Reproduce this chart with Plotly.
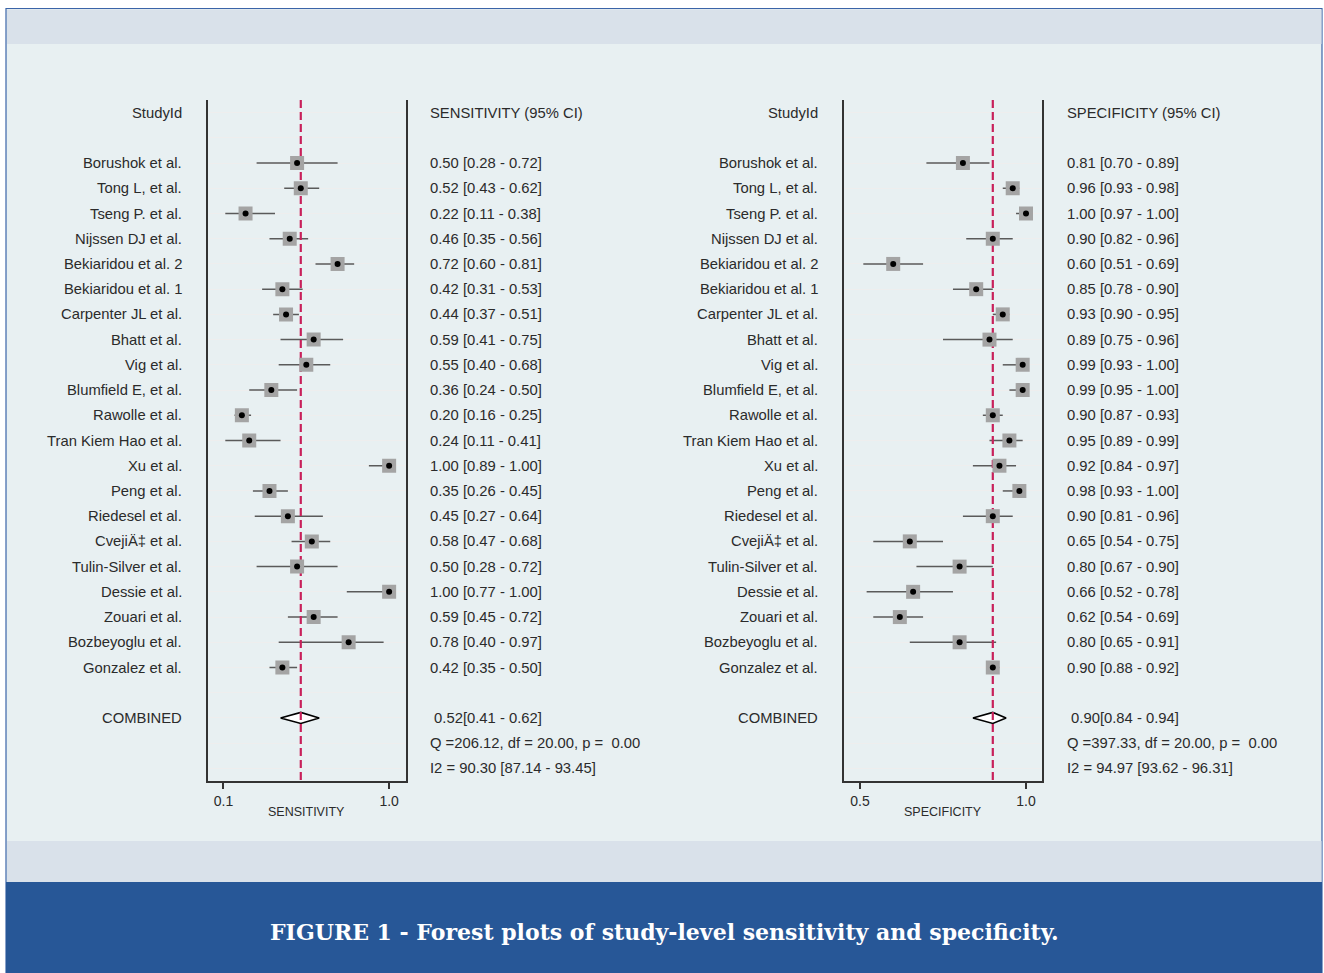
import plotly.graph_objects as go

W, H = 1324, 973

studies = ["Borushok et al.", "Tong L, et al.", "Tseng P. et al.", "Nijssen DJ et al.",
           "Bekiaridou et al. 2", "Bekiaridou et al. 1", "Carpenter JL et al.", "Bhatt et al.",
           "Vig et al.", "Blumfield E, et al.", "Rawolle et al.", "Tran Kiem Hao et al.",
           "Xu et al.", "Peng et al.", "Riedesel et al.", "CvejiÄ‡ et al.",
           "Tulin-Silver et al.", "Dessie et al.", "Zouari et al.", "Bozbeyoglu et al.",
           "Gonzalez et al."]

sens_est = [0.50, 0.52, 0.22, 0.46, 0.72, 0.42, 0.44, 0.59, 0.55, 0.36, 0.20,
            0.24, 1.00, 0.35, 0.45, 0.58, 0.50, 1.00, 0.59, 0.78, 0.42]
sens_lo = [0.28, 0.43, 0.11, 0.35, 0.60, 0.31, 0.37, 0.41, 0.40, 0.24, 0.16,
           0.11, 0.89, 0.26, 0.27, 0.47, 0.28, 0.77, 0.45, 0.40, 0.35]
sens_hi = [0.72, 0.62, 0.38, 0.56, 0.81, 0.53, 0.51, 0.75, 0.68, 0.50, 0.25,
           0.41, 1.00, 0.45, 0.64, 0.68, 0.72, 1.00, 0.72, 0.97, 0.50]

spec_est = [0.81, 0.96, 1.00, 0.90, 0.60, 0.85, 0.93, 0.89, 0.99, 0.99, 0.90,
            0.95, 0.92, 0.98, 0.90, 0.65, 0.80, 0.66, 0.62, 0.80, 0.90]
spec_lo = [0.70, 0.93, 0.97, 0.82, 0.51, 0.78, 0.90, 0.75, 0.93, 0.95, 0.87,
           0.89, 0.84, 0.93, 0.81, 0.54, 0.67, 0.52, 0.54, 0.65, 0.88]
spec_hi = [0.89, 0.98, 1.00, 0.96, 0.69, 0.90, 0.95, 0.96, 1.00, 1.00, 0.93,
           0.99, 0.97, 1.00, 0.96, 0.75, 0.90, 0.78, 0.69, 0.91, 0.92]

sens_pooled = (0.52, 0.41, 0.62)
spec_pooled = (0.90, 0.84, 0.94)
sens_stats = ["Q =206.12, df = 20.00, p =  0.00", "I2 = 90.30 [87.14 - 93.45]"]
spec_stats = ["Q =397.33, df = 20.00, p =  0.00", "I2 = 94.97 [93.62 - 96.31]"]

sens_ticks = [0.1, 1.0]
spec_ticks = [0.5, 1.0]

caption = "FIGURE 1 - Forest plots of study-level sensitivity and specificity."

FONT = "Arial, Liberation Sans, sans-serif"
TXT = "#2b2b2b"
TXT_SIZE = 14.8

def px(x):
    return x / W

def py(y):
    return 1 - y / H

fig = go.Figure()

# rows: 0 header, 1 blank, 2..22 studies, 23 blank, 24 combined, 25 Q, 26 I2
rows = [i + 2 for i in range(len(studies))]
ROW_COMB = len(studies) + 3

panels = [
    dict(xa="x", ya="y", est=sens_est, lo=sens_lo, hi=sens_hi, pooled=sens_pooled,
         stats=sens_stats, name_x=184, val_x=428, header="SENSITIVITY (95% CI)",
         title="SENSITIVITY", dom=(207.5, 405.5), rng=(0.0133, 1.0889), ticks=sens_ticks),
    dict(xa="x2", ya="y2", est=spec_est, lo=spec_lo, hi=spec_hi, pooled=spec_pooled,
         stats=spec_stats, name_x=820, val_x=1065, header="SPECIFICITY (95% CI)",
         title="SPECIFICITY", dom=(844, 1041.7), rng=(0.4518, 1.0473), ticks=spec_ticks),
]

annotations = []
for p in panels:
    est, lo, hi = p["est"], p["lo"], p["hi"]
    # CI lines
    fig.add_trace(go.Scatter(
        x=est, y=rows, mode="markers", xaxis=p["xa"], yaxis=p["ya"],
        marker=dict(size=1, color="rgba(0,0,0,0)"),
        error_x=dict(type="data", symmetric=False,
                     array=[h - e for h, e in zip(hi, est)],
                     arrayminus=[e - l for e, l in zip(est, lo)],
                     width=0, color="#5a5a5a", thickness=1.5),
        showlegend=False, hoverinfo="skip"))
    # pooled diamond
    pe, pl, ph = p["pooled"]
    dh = 0.22
    fig.add_trace(go.Scatter(
        x=[pl, pe, ph, pe, pl], y=[ROW_COMB, ROW_COMB - dh, ROW_COMB, ROW_COMB + dh, ROW_COMB],
        mode="lines", fill="toself", fillcolor="white",
        line=dict(color="black", width=1.6), xaxis=p["xa"], yaxis=p["ya"],
        showlegend=False, hoverinfo="skip"))
    # red pooled line
    fig.add_trace(go.Scatter(
        x=[pe, pe], y=[-0.5, 26.5], mode="lines", xaxis=p["xa"], yaxis=p["ya"],
        line=dict(color="#C8205A", width=2.2, dash="8px,4px"),
        showlegend=False, hoverinfo="skip"))
    # squares
    fig.add_trace(go.Scatter(
        x=est, y=rows, mode="markers", xaxis=p["xa"], yaxis=p["ya"],
        marker=dict(symbol="square", size=14, color="#A4A4A4", line=dict(width=0)),
        showlegend=False, hoverinfo="skip"))
    # dots
    fig.add_trace(go.Scatter(
        x=est, y=rows, mode="markers", xaxis=p["xa"], yaxis=p["ya"],
        marker=dict(symbol="circle", size=6, color="black", line=dict(width=0)),
        showlegend=False, hoverinfo="skip"))

    # text
    def ann(text, x, row, anchor):
        annotations.append(dict(text=text, x=px(x), xref="paper", y=row, yref=p["ya"],
                                xanchor=anchor, yanchor="middle", showarrow=False,
                                font=dict(family=FONT, size=TXT_SIZE, color=TXT)))
    ann("StudyId", p["name_x"], 0, "right")
    ann(p["header"], p["val_x"], 0, "left")
    for r, s, e, l, h in zip(rows, studies, est, lo, hi):
        ann(s, p["name_x"], r, "right")
        ann(f"{e:.2f} [{l:.2f} - {h:.2f}]", p["val_x"], r, "left")
    ann("COMBINED", p["name_x"], ROW_COMB, "right")
    ann(f" {pe:.2f}[{pl:.2f} - {ph:.2f}]", p["val_x"], ROW_COMB, "left")
    ann(p["stats"][0], p["val_x"], ROW_COMB + 1, "left")
    ann(p["stats"][1], p["val_x"], ROW_COMB + 2, "left")
    # axis title
    annotations.append(dict(text=p["title"], x=(px(p["dom"][0]) + px(p["dom"][1])) / 2,
                            xref="paper", y=py(812), yref="paper", xanchor="center",
                            yanchor="middle", showarrow=False,
                            font=dict(family=FONT, size=12.5, color=TXT)))

annotations.append(dict(text="<b>" + caption + "</b>", x=px(664), xref="paper", y=py(932),
                        yref="paper", xanchor="center", yanchor="middle", showarrow=False,
                        font=dict(family="DejaVu Serif, Liberation Serif, serif", size=22,
                                  color="white")))

shapes = [
    dict(type="rect", xref="paper", yref="paper", x0=px(6), x1=px(1322), y0=py(973), y1=py(8.5),
         fillcolor="#E8F0F2", line=dict(color="#3A64A8", width=1.2), layer="below"),
    dict(type="rect", xref="paper", yref="paper", x0=px(7), x1=px(1321.5), y0=py(44), y1=py(9.5),
         fillcolor="#D9E1EA", line=dict(width=0), layer="below"),
    dict(type="rect", xref="paper", yref="paper", x0=px(7), x1=px(1321.5), y0=py(882), y1=py(841),
         fillcolor="#D9E1EA", line=dict(width=0), layer="below"),
    dict(type="rect", xref="paper", yref="paper", x0=px(6), x1=px(1322), y0=py(973), y1=py(882),
         fillcolor="#275797", line=dict(width=0), layer="below"),
]

ydom = [py(781), py(100)]

def xaxis_cfg(p):
    return dict(domain=[px(p["dom"][0]), px(p["dom"][1])], range=list(p["rng"]),
                tickvals=p["ticks"], ticktext=[f"{t:.1f}" for t in p["ticks"]],
                ticks="outside", ticklen=6, tickwidth=1.5, tickcolor="#333",
                showline=True, linecolor="#333", linewidth=2, mirror=False,
                showgrid=False, zeroline=False,
                tickfont=dict(family=FONT, size=14, color=TXT), fixedrange=True)

def yaxis_cfg(anchor):
    return dict(domain=ydom, range=[26.5, -0.5], tickvals=list(range(27)),
                showticklabels=False, ticks="", showgrid=True, gridcolor="#EEEEEE",
                gridwidth=1, zeroline=False, showline=True, linecolor="#333",
                linewidth=2, mirror=True, anchor=anchor, fixedrange=True)

fig.update_layout(
    width=W, height=H, margin=dict(l=0, r=0, t=0, b=0),
    paper_bgcolor="white", plot_bgcolor="white",
    xaxis=dict(anchor="y", **xaxis_cfg(panels[0])),
    yaxis=yaxis_cfg("x"),
    xaxis2=dict(anchor="y2", **xaxis_cfg(panels[1])),
    yaxis2=yaxis_cfg("x2"),
    annotations=annotations, shapes=shapes, showlegend=False,
)

fig.write_html("out.html", config={"displayModeBar": False},
               post_script="document.body.style.margin='0';document.body.style.overflow='hidden';")
